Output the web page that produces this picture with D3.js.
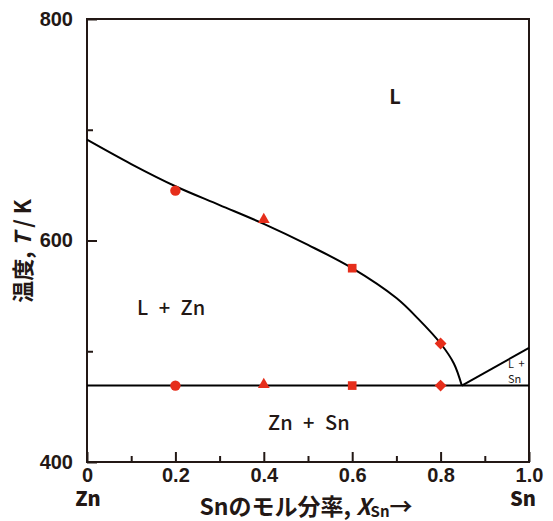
<!DOCTYPE html>
<html>
<head>
<meta charset="utf-8">
<script src="https://cdn.jsdelivr.net/npm/d3@7"></script>
<style>
    body { margin: 0; background: #fff; }
    svg { display: block; font-family: "Noto Sans CJK JP", "Noto Sans", sans-serif; }
    .axis path, .axis line { stroke: #231815; stroke-width: 2; }
    .axis text { fill: #231815; font-size: 20px; font-weight: 900; }
    .line { fill: none; stroke: #000; stroke-width: 2; }
    .label { fill: #231815; }
</style>
</head>
<body>
<svg id="chart" width="553" height="521"></svg>
<script>
// liquidus on the Zn side (X_Sn, T/K)
const liquidusZn = [
    [0, 691], [0.1, 669], [0.2, 649], [0.3, 632], [0.4, 615],
    [0.5, 596], [0.6, 575], [0.7, 548], [0.75, 529], [0.8, 507],
    [0.83, 489], [0.848, 469]
]
// liquidus on the Sn side
const liquidusSn = [[0.848, 469], [1.0, 503]]
const eutecticT = 469

// measured points
const pointX = [0.2, 0.4, 0.6, 0.8]
const pointLiquidus = [645, 618, 575, 507]
const pointShapes = ["circle", "triangle", "square", "diamond"]

const xMajor = [0, 0.2, 0.4, 0.6, 0.8, 1.0]
const xMinor = [0.1, 0.3, 0.5, 0.7, 0.9]
const yMajor = [400, 600, 800]
const yMinor = [500, 700]

const margin = { top: 19, left: 87, right: 24, bottom: 59 }
const width = 553
const height = 521
const innerWidth = width - margin.left - margin.right
const innerHeight = height - margin.top - margin.bottom

const svg = d3.select("#chart")
const g = svg.append("g").attr("transform", `translate(${margin.left}, ${margin.top})`)

const x = d3.scaleLinear().domain([0, 1]).range([0, innerWidth])
const y = d3.scaleLinear().domain([400, 800]).range([innerHeight, 0])

// frame
g.append("rect")
    .attr("width", innerWidth)
    .attr("height", innerHeight)
    .attr("fill", "none")
    .attr("stroke", "#231815")
    .attr("stroke-width", 2)

// axes, ticks pointing inward
g.append("g")
    .attr("class", "x axis")
    .attr("transform", `translate(0, ${innerHeight})`)
    .call(d3.axisBottom(x).tickValues(xMajor).tickSize(-10).tickPadding(18)
        .tickFormat(d => d === 0 ? "0" : d3.format(".1f")(d)))
g.append("g")
    .attr("class", "x axis")
    .attr("transform", `translate(0, ${innerHeight})`)
    .call(d3.axisBottom(x).tickValues(xMinor).tickSize(-6).tickFormat(""))
g.append("g")
    .attr("class", "y axis")
    .call(d3.axisLeft(y).tickValues(yMajor).tickSize(-10).tickPadding(14))
g.append("g")
    .attr("class", "y axis")
    .call(d3.axisLeft(y).tickValues(yMinor).tickSize(-6).tickFormat(""))
g.selectAll(".axis .domain").remove()
g.selectAll(".x.axis text").attr("dy", "0.1em")

// eutectic line
g.append("line")
    .attr("x1", x(0)).attr("x2", x(1))
    .attr("y1", y(eutecticT)).attr("y2", y(eutecticT))
    .attr("stroke", "#000").attr("stroke-width", 2)

const line = d3.line().x(d => x(d[0])).y(d => y(d[1])).curve(d3.curveCatmullRom.alpha(0.5))
g.append("path").datum(liquidusZn).attr("class", "line").attr("d", line)
g.append("path").datum(liquidusSn).attr("class", "line").attr("d", d3.line().x(d => x(d[0])).y(d => y(d[1])))

// markers
const symbolType = {
    circle: d3.symbolCircle,
    triangle: d3.symbolTriangle,
    square: d3.symbolSquare,
    diamond: d3.symbolSquare
}
const symbolSize = { circle: 85, triangle: 60, square: 75, diamond: 70 }
const markers = []
pointX.forEach((px, i) => {
    markers.push({ x: px, t: pointLiquidus[i], shape: pointShapes[i] })
    markers.push({ x: px, t: eutecticT, shape: pointShapes[i] })
})
g.selectAll("path.marker")
    .data(markers).enter()
    .append("path")
    .attr("class", "marker")
    .attr("transform", d => `translate(${x(d.x)}, ${y(d.t) + (d.shape === "triangle" ? -1 : 0)})` +
        (d.shape === "diamond" ? " rotate(45)" : ""))
    .attr("d", d => d3.symbol().type(symbolType[d.shape]).size(symbolSize[d.shape])())
    .attr("fill", "#e62e1b")

// phase region labels
g.append("text").attr("class", "label")
    .attr("x", 308).attr("y", 85)
    .attr("text-anchor", "middle")
    .style("font-size", "20px").style("font-weight", "bold")
    .text("L")
g.append("text").attr("class", "label")
    .attr("x", 50).attr("y", 296)
    .style("font-size", "20px").style("font-weight", "500")
    .style("word-spacing", "6px")
    .text("L + Zn")
g.append("text").attr("class", "label")
    .attr("x", 181).attr("y", 411)
    .style("font-size", "20px").style("font-weight", "500")
    .style("word-spacing", "6px")
    .text("Zn + Sn")
g.append("text").attr("class", "label")
    .attr("x", 421).attr("y", 349)
    .style("font-size", "11px")
    .style("word-spacing", "2px")
    .text("L +")
g.append("text").attr("class", "label")
    .attr("x", 421).attr("y", 364)
    .style("font-size", "11px")
    .text("Sn")

// end-member labels
svg.append("text").attr("class", "label")
    .attr("x", 88).attr("y", 506)
    .attr("text-anchor", "middle")
    .style("font-size", "20px").style("font-weight", "900")
    .text("Zn")
svg.append("text").attr("class", "label")
    .attr("x", 523).attr("y", 506)
    .attr("text-anchor", "middle")
    .style("font-size", "20px").style("font-weight", "900")
    .text("Sn")

// x-axis title
const xt = svg.append("text").attr("class", "label")
    .attr("x", 306).attr("y", 515)
    .attr("text-anchor", "middle")
    .style("font-size", "23px").style("font-weight", "bold")
xt.append("tspan").text("Snのモル分率, ")
xt.append("tspan").style("font-style", "italic").text("X")
xt.append("tspan").style("font-size", "15px").attr("dy", "2").text("Sn")
xt.append("tspan").attr("dy", "-2").text("→")

// y-axis title
const yt = svg.append("text").attr("class", "label")
    .attr("transform", "rotate(-90)")
    .attr("x", -251).attr("y", 31)
    .attr("text-anchor", "middle")
    .style("font-size", "22px").style("font-weight", "bold")
yt.append("tspan").text("温度, ")
yt.append("tspan").style("font-style", "italic").text("T")
yt.append("tspan").text(" / K")
</script>
</body>
</html>
